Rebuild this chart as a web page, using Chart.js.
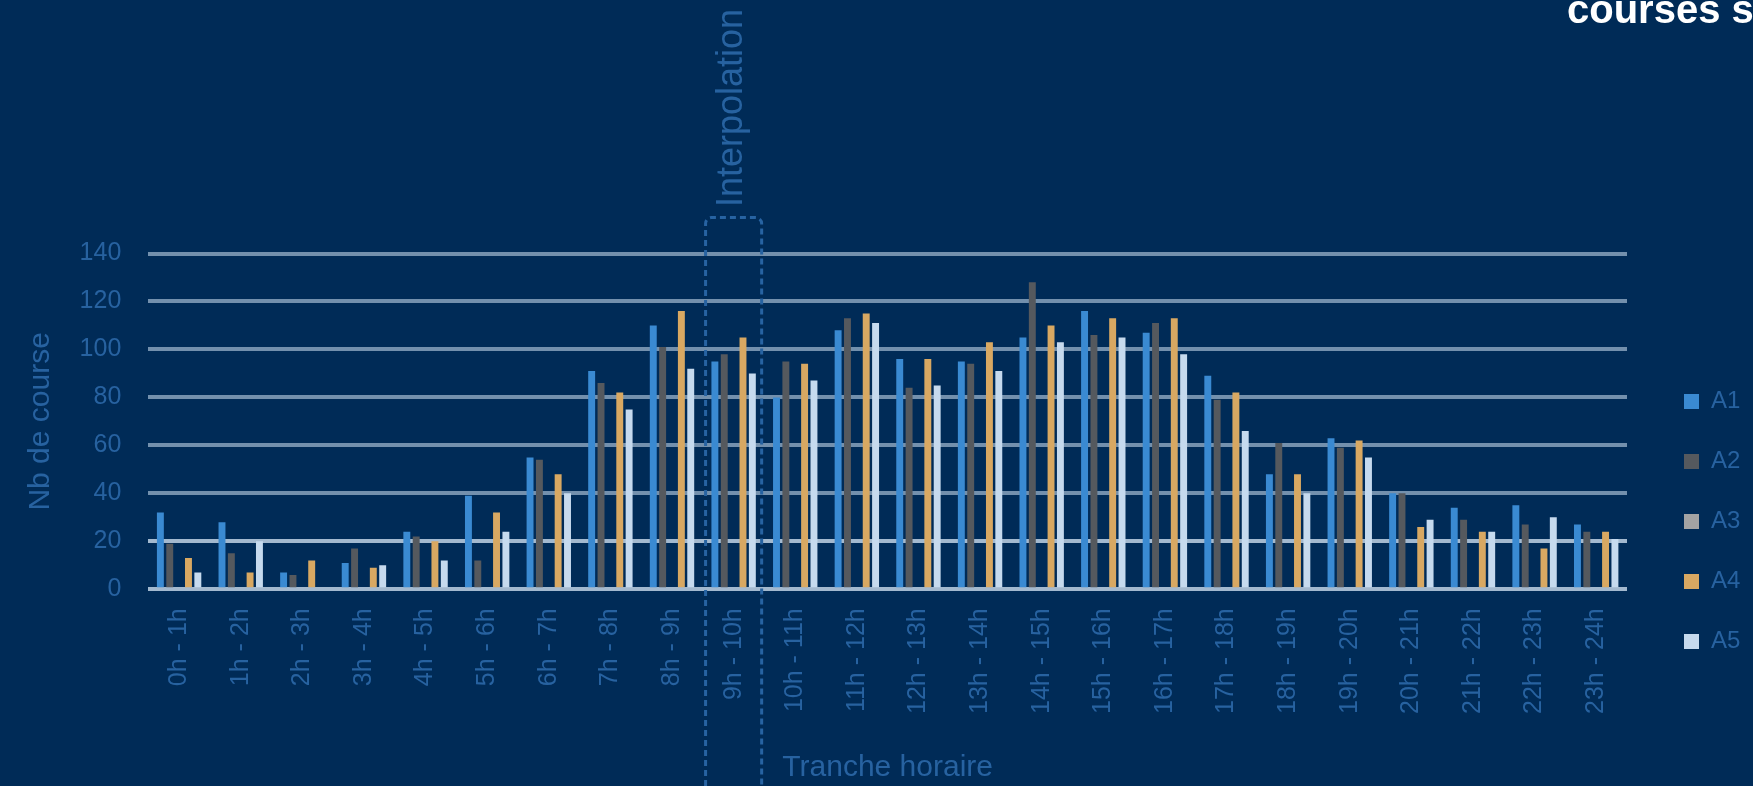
<!DOCTYPE html>
<html>
<head>
<meta charset="utf-8">
<script src="https://cdn.jsdelivr.net/npm/chart.js@4.4.1/dist/chart.umd.min.js"></script>
<style>
  html, body { margin:0; padding:0; background:#002b57; overflow:hidden; width:1753px; height:786px; }
  #wrap { position:relative; width:1753px; height:786px; overflow:hidden; }
  #chart { position:absolute; left:0; top:0; }
  #title { position:absolute; left:1567px; top:-15px; white-space:nowrap; font:bold 40px "Liberation Sans", Arial, sans-serif; line-height:48px; color:#ffffff; }
  #interp { position:absolute; width:300px; text-align:center; white-space:nowrap; font:36px "Liberation Sans", Arial, sans-serif; line-height:40px; color:#2762a0; transform:rotate(-90deg); transform-origin:50% 50%; }
</style>
</head>
<body>
<div id="wrap">
  <canvas id="chart" width="1753" height="786"></canvas>
  <div id="title">courses selon la tranche horaire</div>
  <div id="interp">Interpolation</div>
</div>
<script>
const categories = ["0h - 1h","1h - 2h","2h - 3h","3h - 4h","4h - 5h","5h - 6h","6h - 7h","7h - 8h","8h - 9h","9h - 10h","10h - 11h","11h - 12h","12h - 13h","13h - 14h","14h - 15h","15h - 16h","16h - 17h","17h - 18h","18h - 19h","19h - 20h","20h - 21h","21h - 22h","22h - 23h","23h - 24h"];
const seriesNames = ["A1","A2","A3","A4","A5"];
const A1 = [32, 28, 7, 11, 24, 39, 55, 91, 110, 95, 80, 108, 96, 95, 105, 116, 107, 89, 48, 63, 40, 34, 35, 27];
const A2 = [19, 15, 6, 17, 22, 12, 54, 86, 101, 98, 95, 113, 84, 94, 128, 106, 111, 79, 61, 59, 40, 29, 27, 24];
const A3 = [null,null,null,null,null,null,null,null,null,null,null,null,null,null,null,null,null,null,null,null,null,null,null,null];
const A4 = [13, 7, 12, 9, 20, 32, 48, 82, 116, 105, 94, 115, 96, 103, 110, 113, 113, 82, 48, 62, 26, 24, 17, 24];
const A5 = [7, 20, 0, 10, 12, 24, 40, 75, 92, 90, 87, 111, 85, 91, 103, 105, 98, 66, 40, 55, 29, 24, 30, 21];
const yTicks = [0, 20, 40, 60, 80, 100, 120, 140];
const interpolatedCategory = "9h - 10h";

const colors = ["#3a8ad2", "#55595e", "#a3a3a3", "#d8a862", "#c6daee"];
const textColor = "#2762a0";
const FONT = "'Liberation Sans', Arial, sans-serif";

const seriesData = [A1, A2, A3, A4, A5];

const legendPlugin = {
  id: 'sideLegend',
  afterDraw(chart) {
    const ctx = chart.ctx;
    const area = chart.chartArea;
    ctx.save();
    ctx.font = "24px " + FONT;
    ctx.textBaseline = 'middle';
    ctx.textAlign = 'left';
    chart.data.datasets.forEach((ds, i) => {
      const y = 401 + i * 60;
      const x = area.right + 57;
      ctx.fillStyle = ds.backgroundColor;
      ctx.fillRect(x, y - 7, 15, 15);
      ctx.fillStyle = textColor;
      ctx.fillText(ds.label, x + 27, y);
    });
    ctx.restore();
  }
};

const boxPlugin = {
  id: 'interpBox',
  afterDraw(chart) {
    const xs = chart.scales.x, ys = chart.scales.y;
    const idx = categories.indexOf(interpolatedCategory);
    const cx = xs.getPixelForValue(idx);
    const catW = (xs.right - xs.left) / categories.length;
    const l = cx - 0.455 * catW, r = cx + 0.455 * catW;
    const t = ys.getPixelForValue(155);
    const b = chart.height + 20;
    const rad = 6;
    const ctx = chart.ctx;
    ctx.save();
    ctx.strokeStyle = "#2763a2";
    ctx.lineWidth = 3;
    ctx.setLineDash([6, 4]);
    ctx.beginPath();
    ctx.moveTo(l, b);
    ctx.lineTo(l, t + rad);
    ctx.arcTo(l, t, l + rad, t, rad);
    ctx.lineTo(r - rad, t);
    ctx.arcTo(r, t, r, t + rad, rad);
    ctx.lineTo(r, b);
    ctx.stroke();
    ctx.restore();
    const lab = document.getElementById('interp');
    lab.style.left = (cx - 4 - 150) + 'px';
    lab.style.top = (108 - 20) + 'px';
  }
};

const chart = new Chart(document.getElementById('chart'), {
  type: 'bar',
  data: {
    labels: categories,
    datasets: seriesData.map((d, i) => ({
      label: seriesNames[i],
      data: d,
      backgroundColor: colors[i],
      borderWidth: 0,
      categoryPercentage: 0.76,
      barPercentage: 0.74
    }))
  },
  options: {
    responsive: false,
    animation: false,
    layout: { padding: { top: 253.5, left: 0, right: 126, bottom: 0 } },
    plugins: {
      legend: { display: false },
      title: { display: false },
      tooltip: { enabled: false }
    },
    scales: {
      x: {
        grid: { display: false, drawTicks: false },
        border: { display: false },
        ticks: {
          color: textColor,
          font: { family: FONT, size: 25 },
          minRotation: 90, maxRotation: 90,
          autoSkip: false,
          padding: 19
        },
        title: {
          display: true,
          text: "Tranche horaire",
          color: textColor,
          font: { family: FONT, size: 30 },
          padding: { top: 1, bottom: 0 }
        },
        afterFit(scale) { scale.height = 786 - 589.3; }
      },
      y: {
        min: 0, max: 140,
        afterBuildTicks(scale) { scale.ticks = yTicks.map(v => ({ value: v })); },
        grid: {
          drawTicks: false,
          lineWidth: 4,
          color: (c) => (c.tick && (c.tick.value === 0 || c.tick.value === 20)) ? '#a3b9cf' : '#7390ad'
        },
        border: { display: false },
        ticks: {
          color: textColor,
          font: { family: FONT, size: 25 },
          padding: 27
        },
        title: {
          display: true,
          text: "Nb de course",
          color: textColor,
          font: { family: FONT, size: 30 },
          padding: { top: 23, bottom: 0 }
        },
        afterFit(scale) { scale.width = 148.3; }
      }
    }
  },
  plugins: [boxPlugin, legendPlugin]
});
</script>
</body>
</html>
